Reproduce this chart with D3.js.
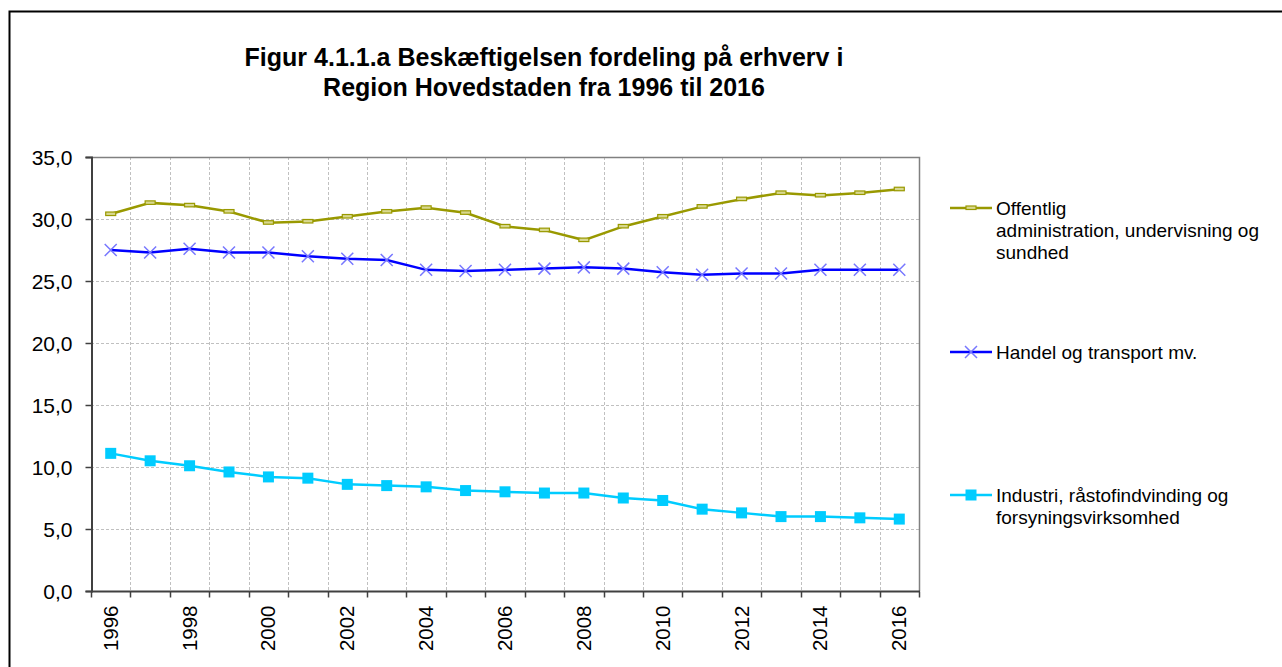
<!DOCTYPE html>
<html>
<head>
<meta charset="utf-8">
<script src="https://cdn.jsdelivr.net/npm/d3@7"></script>
<style>
  body { margin: 0; background: #fff; }
  svg { display: block; font-family: "Liberation Sans", Arial, sans-serif; }
</style>
</head>
<body>
<svg id="chart" width="1282" height="667"></svg>
<script>
// Data
var years = d3.range(1996, 2017);
var offentlig = [30.4, 31.3, 31.1, 30.6, 29.7, 29.8, 30.2, 30.6, 30.9, 30.5, 29.4, 29.1, 28.3, 29.4, 30.2, 31.0, 31.6, 32.1, 31.9, 32.1, 32.4];
var handel = [27.5, 27.3, 27.6, 27.3, 27.3, 27.0, 26.8, 26.7, 25.9, 25.8, 25.9, 26.0, 26.1, 26.0, 25.7, 25.5, 25.6, 25.6, 25.9, 25.9, 25.9];
var industri = [11.1, 10.5, 10.1, 9.6, 9.2, 9.1, 8.6, 8.5, 8.4, 8.1, 8.0, 7.9, 7.9, 7.5, 7.3, 6.6, 6.3, 6.0, 6.0, 5.9, 5.8];
var yTicks = [0, 5, 10, 15, 20, 25, 30, 35];
var titleLines = ["Figur 4.1.1.a Beskæftigelsen fordeling på erhverv i", "Region Hovedstaden fra 1996 til 2016"];

var series = [
  { name: ["Offentlig", "administration, undervisning og", "sundhed"], values: offentlig, color: "#999900", marker: "dash", ly: 208 },
  { name: ["Handel og transport mv."], values: handel, color: "#0000ff", marker: "cross", ly: 352 },
  { name: ["Industri, råstofindvinding og", "forsyningsvirksomhed"], values: industri, color: "#00ccff", marker: "square", ly: 495 }
];

var svg = d3.select("#chart");

// Outer frame
svg.append("path").attr("d", "M9.5,667 V11.5 H1282").attr("fill", "none").attr("stroke", "#000").attr("stroke-width", 2);

// Title
svg.append("g").selectAll("text").data(titleLines).enter().append("text")
  .attr("x", 544).attr("y", function(d, i) { return 66 + i * 30; })
  .attr("text-anchor", "middle").attr("font-size", 25).attr("font-weight", "bold")
  .text(function(d) { return d; });

// Scales
var pLeft = 91, pRight = 919, pTop = 157, pBottom = 591;
var x = d3.scaleBand().domain(years).range([pLeft, pRight]).padding(0);
var y = d3.scaleLinear().domain([0, 35]).range([pBottom, pTop]);
var cx = function(i) { return x(years[i]) + x.bandwidth() / 2; };

// Grid
var grid = svg.append("g");
grid.selectAll("line.h").data(yTicks.filter(function(d) { return d > 0 && d < 35; })).enter().append("line")
  .attr("x1", pLeft).attr("x2", pRight).attr("y1", function(d) { return Math.round(y(d)) + 0.5; }).attr("y2", function(d) { return Math.round(y(d)) + 0.5; })
  .attr("stroke", "#c0c0c0").attr("stroke-dasharray", "3,2");
grid.selectAll("line.v").data(years.slice(1)).enter().append("line")
  .attr("x1", function(d) { return Math.round(x(d)) + 0.5; }).attr("x2", function(d) { return Math.round(x(d)) + 0.5; })
  .attr("y1", pTop).attr("y2", pBottom)
  .attr("stroke", "#c0c0c0").attr("stroke-dasharray", "3,2");

// Plot border top/right
svg.append("path").attr("d", "M" + pLeft + "," + (pTop + 0.5) + " H" + (pRight + 0.5) + " V" + pBottom)
  .attr("fill", "none").attr("stroke", "#808080").attr("stroke-width", 1.5);

// Y axis
var yAxis = svg.append("g").attr("transform", "translate(" + (pLeft + 0.5) + ",0)")
  .call(d3.axisLeft(y).tickValues(yTicks).tickSize(6).tickFormat(function(d) { return d3.format(".1f")(d).replace(".", ","); }));
yAxis.select(".domain").attr("stroke", "#404040").attr("stroke-width", 2);
yAxis.selectAll(".tick line").attr("stroke", "#404040").attr("stroke-width", 1.5);
yAxis.selectAll(".tick text").attr("font-size", 21).attr("fill", "#000").attr("x", -19).attr("dy", "0.36em")
  .style("font-family", "Liberation Sans, Arial, sans-serif");

// X axis
var xAxis = svg.append("g").attr("transform", "translate(0," + (pBottom + 0.5) + ")");
xAxis.append("line").attr("x1", pLeft).attr("x2", pRight + 1).attr("stroke", "#404040").attr("stroke-width", 2);
xAxis.selectAll("line.tk").data(years.concat([2017])).enter().append("line")
  .attr("x1", function(d, i) { return Math.round(i < years.length ? x(d) : pRight) + 0.5; })
  .attr("x2", function(d, i) { return Math.round(i < years.length ? x(d) : pRight) + 0.5; })
  .attr("y1", 0).attr("y2", 6).attr("stroke", "#404040").attr("stroke-width", 1.5);
xAxis.selectAll("text").data(years.filter(function(d) { return d % 2 === 0; })).enter().append("text")
  .attr("transform", function(d) { return "translate(" + (x(d) + x.bandwidth() / 2 + 7) + ",14) rotate(-90)"; })
  .attr("text-anchor", "end").attr("font-size", 20.5)
  .text(function(d) { return d; });

// Markers
function drawMarker(g, type, color, px, py) {
  if (type === "square") {
    g.append("rect").attr("x", px - 5.5).attr("y", py - 5.5).attr("width", 11).attr("height", 11).attr("fill", color);
  } else if (type === "cross") {
    g.append("path").attr("d", "M" + (px - 6) + "," + (py - 6) + " L" + (px + 6) + "," + (py + 6) + " M" + (px - 6) + "," + (py + 6) + " L" + (px + 6) + "," + (py - 6))
      .attr("stroke", "#7777ff").attr("stroke-width", 1.5);
  } else {
    g.append("rect").attr("x", px - 5).attr("y", py - 2).attr("width", 10).attr("height", 3.5)
      .attr("fill", "#d8d890").attr("stroke", color).attr("stroke-width", 1.2);
  }
}

// Lines
var line = d3.line().x(function(d, i) { return cx(i); }).y(function(d) { return y(d); });
series.forEach(function(s) {
  var g = svg.append("g");
  g.append("path").datum(s.values).attr("d", line).attr("fill", "none")
    .attr("stroke", s.color).attr("stroke-width", 2.5);
  s.values.forEach(function(v, i) { drawMarker(g, s.marker, s.color, cx(i), y(v)); });
});

// Legend
var legend = svg.append("g");
series.forEach(function(s) {
  var g = legend.append("g");
  g.append("line").attr("x1", 950).attr("x2", 992).attr("y1", s.ly).attr("y2", s.ly)
    .attr("stroke", s.color).attr("stroke-width", 2.5);
  drawMarker(g, s.marker, s.color, 971, s.ly);
  g.selectAll("text").data(s.name).enter().append("text")
    .attr("x", 996).attr("y", function(d, i) { return s.ly + 7 + i * 22; })
    .attr("font-size", 19).text(function(d) { return d; });
});
</script>
</body>
</html>
